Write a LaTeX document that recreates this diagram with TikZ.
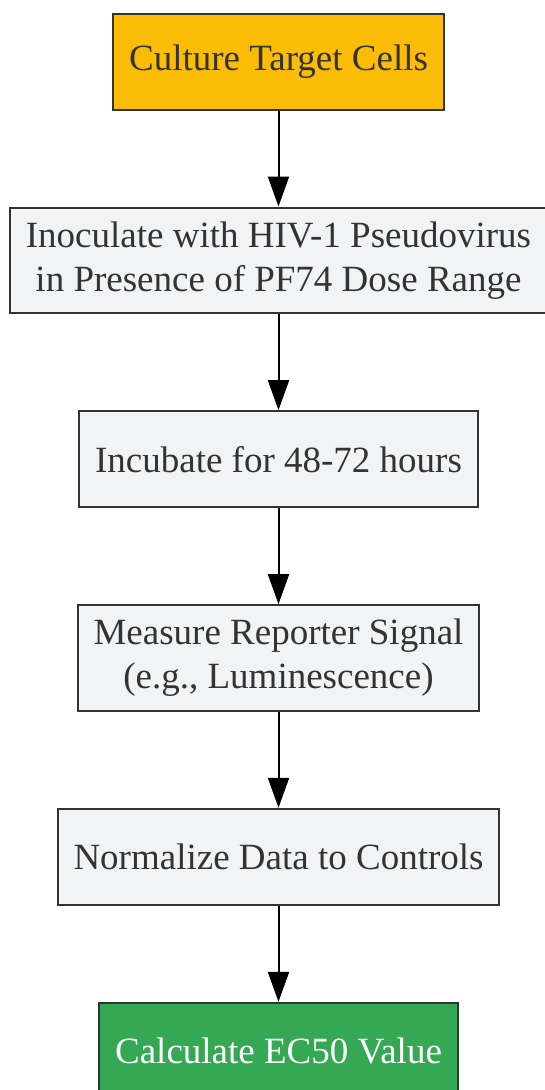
\documentclass[tikz,border=0pt]{standalone}
\usepackage{fontspec}
\setmainfont{Liberation Serif}
\usepackage{tikz}
\usetikzlibrary{shapes,arrows.meta,positioning}

\definecolor{cellorange}{HTML}{FBBC05}
\definecolor{stepgray}{HTML}{F1F3F4}
\definecolor{resultgreen}{HTML}{34A853}
\definecolor{edgegray}{HTML}{333333}

\begin{document}
\begin{tikzpicture}[x=1pt, y=1pt, node distance=96pt,
  every node/.style = {shape=rectangle, draw=edgegray, line width=2pt,
    align=center, inner xsep=16pt, inner ysep=14pt, minimum height=96pt,
    font=\fontsize{37}{44}\selectfont, text=edgegray, fill=stepgray},
  flow/.style = {-{Triangle[length=30pt,width=21pt]}, line width=2pt, black}]]
  \useasboundingbox (0,0) rectangle (545,-1090);
  \node[fill=cellorange] (culture) at (278.5,-61.5) {Culture Target Cells};
  \node[below=of culture] (inoculate) {Inoculate with HIV-1 Pseudovirus\\in Presence of PF74 Dose Range};
  \node[below=of inoculate] (incubate) {Incubate for 48-72 hours};
  \node[below=of incubate] (measure) {Measure Reporter Signal\\(e.g., Luminescence)};
  \node[below=of measure] (normalize) {Normalize Data to Controls};
  \node[below=of normalize, fill=resultgreen, text=white] (calculate) {Calculate EC50 Value};
  \foreach \a/\b in {culture/inoculate, inoculate/incubate, incubate/measure,
    measure/normalize, normalize/calculate}
    \draw[flow] (\a) -- (\b);
\end{tikzpicture}
\end{document}
